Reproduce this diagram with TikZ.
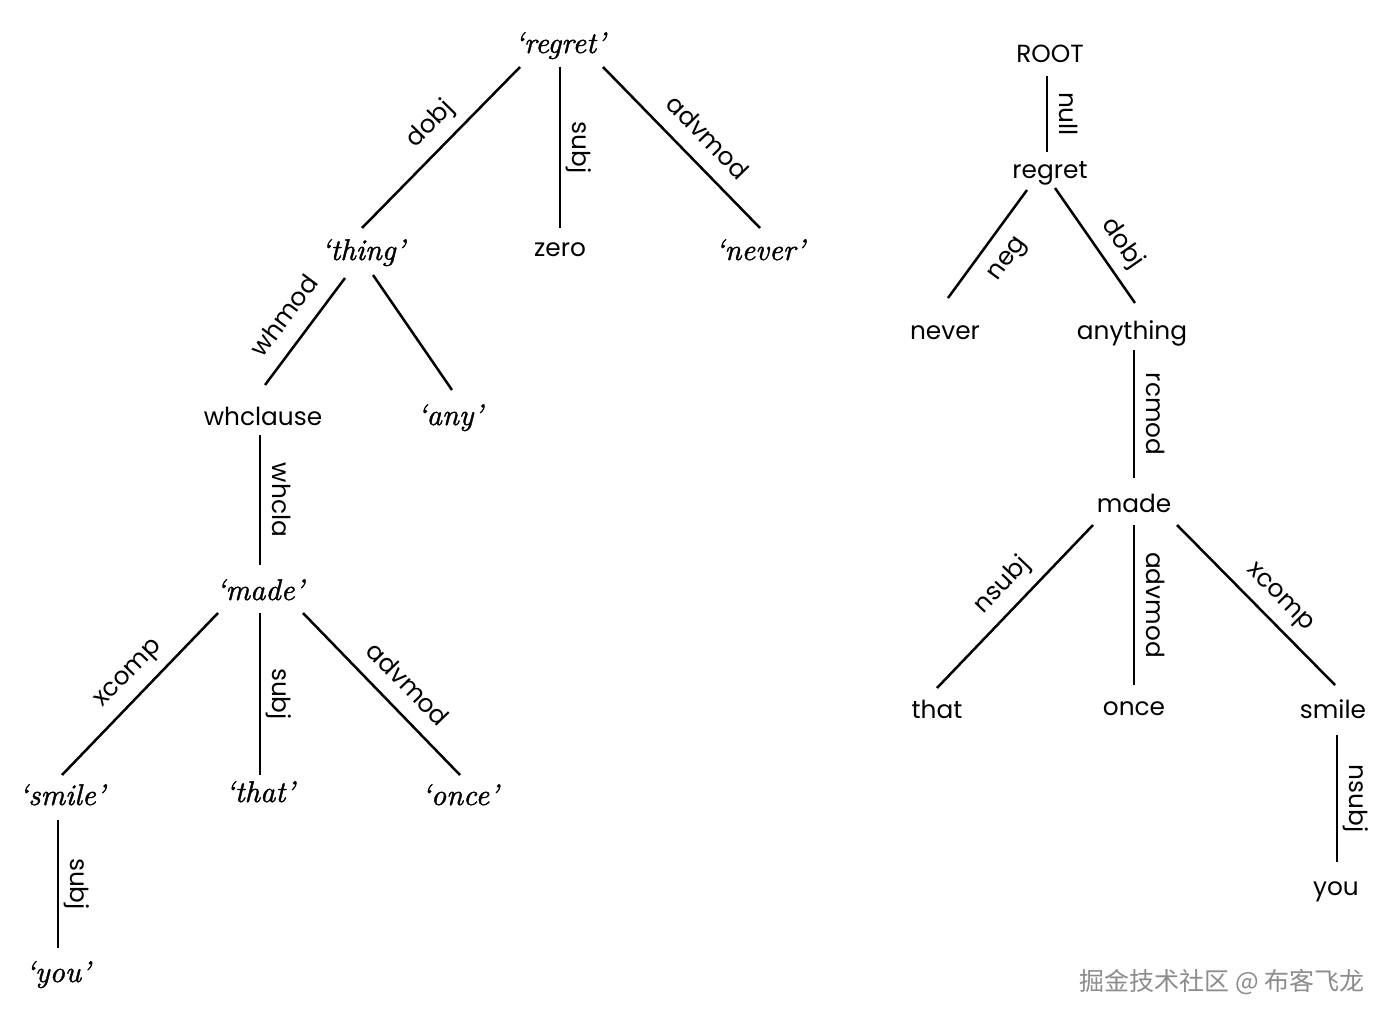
\documentclass[tikz,border=0pt]{standalone}
\usepackage{fontspec}
\newfontfamily\pop{Poppins}
\newfontfamily\cjk{Noto Sans CJK SC}
\newfontfamily\lmi{lmroman10-italic.otf}[FakeBold=1.2,Ligatures=TeX]
\usetikzlibrary{calc}
\begin{document}
\begin{tikzpicture}[x=0.5pt,y=-0.5pt,
  sw/.style={font=\pop\fontsize{12.4}{15}\selectfont, inner sep=0pt, anchor=base},
  iw/.style={font=\lmi\fontsize{15}{17}\selectfont, inner sep=0pt, anchor=base},
  lbl/.style={font=\pop\fontsize{12.4}{15}\selectfont, text height=9.5pt, text depth=3pt, inner sep=2.5pt},
  sl/.style={lbl, inner sep=5pt, sloped, pos=0.5, anchor=south},
  sb/.style={lbl, inner sep=5pt, sloped, pos=0.5, anchor=north},
  vl/.style={lbl, midway, rotate=-90, anchor=south},
  edge/.style={line width=1.25pt}]
\useasboundingbox (0,0) rectangle (1392,1022);
% ---------- left tree ----------
\node[iw] (lregret) at (560,53) {‘regret’};
\node[iw] (lthing) at (363,260) {‘thing’};
\node[sw] (lzero) at (560,256) {zero};
\node[iw] (lnever) at (760,260) {‘never’};
\node[sw] (lwh) at (263,425) {whclause};
\node[iw] (lany) at (450,425) {‘any’};
\node[iw] (lmade) at (260,600) {‘made’};
\node[iw] (lsmile) at (62,805) {‘smile’};
\node[iw] (lthat) at (260,802) {‘that’};
\node[iw] (lonce) at (460,805) {‘once’};
\node[iw] (lyou) at (58,982) {‘you’};

\draw[edge] ($(lregret.base)+(-40,14)$) -- node[sl, pos=0.46] {dobj} ($(lthing.base)+(-1,-32)$);
\draw[edge] ($(lregret.base)+(0,14)$) -- node[vl] {subj} ($(lzero.base)+(0,-28)$);
\draw[edge] ($(lregret.base)+(43,14)$) -- node[sl, pos=0.55] {advmod} ($(lnever.base)+(0,-32)$);
\draw[edge] ($(lthing.base)+(-18,18)$) -- node[sl] {whmod} ($(lwh.base)+(2,-40)$);
\draw[edge] ($(lthing.base)+(10,15)$) -- ($(lany.base)+(2,-35)$);
\draw[edge] ($(lwh.base)+(-3,10)$) -- node[vl] {whcla} ($(lmade.base)+(0,-35)$);
\draw[edge] ($(lmade.base)+(-42,13)$) -- node[sl, pos=0.47] {xcomp} ($(lsmile.base)+(0,-30)$);
\draw[edge] ($(lmade.base)+(0,13)$) -- node[vl] {subj} ($(lthat.base)+(0,-27)$);
\draw[edge] ($(lmade.base)+(43,13)$) -- node[sl, pos=0.55] {advmod} ($(lonce.base)+(0,-30)$);
\draw[edge] ($(lsmile.base)+(-4,15)$) -- node[vl] {subj} ($(lyou.base)+(0,-34)$);

% ---------- right tree ----------
\node[sw] (rroot) at (1050,63) {ROOT};
\node[sw] (rregret) at (1050,178) {regret};
\node[sw] (rnever) at (945,339) {never};
\node[sw] (rany) at (1132,339) {anything};
\node[sw] (rmade) at (1134,512) {made};
\node[sw] (rthat) at (937,718) {that};
\node[sw] (ronce) at (1134,715) {once};
\node[sw] (rsmile) at (1333,718) {smile};
\node[sw] (ryou) at (1336,895) {you};

\draw[edge] ($(rroot.base)+(-3,13)$) -- node[vl] {null} ($(rregret.base)+(-3,-26)$);
\draw[edge] ($(rregret.base)+(-23,12)$) -- node[sb] {neg} ($(rnever.base)+(3,-41)$);
\draw[edge] ($(rregret.base)+(5,10)$) -- node[sl, pos=0.6] {dobj} ($(rany.base)+(3,-36)$);
\draw[edge] ($(rany.base)+(2,11)$) -- node[vl] {rcmod} ($(rmade.base)+(0,-34)$);
\draw[edge] ($(rmade.base)+(-41,13)$) -- node[sl, pos=0.47] {nsubj} ($(rthat.base)+(0,-30)$);
\draw[edge] ($(rmade.base)+(0,13)$) -- node[vl] {advmod} ($(ronce.base)+(0,-30)$);
\draw[edge] ($(rmade.base)+(43,13)$) -- node[sl, pos=0.55] {xcomp} ($(rsmile.base)+(2,-33)$);
\draw[edge] ($(rsmile.base)+(4,17)$) -- node[vl] {nsubj} ($(ryou.base)+(1,-33)$);

% ---------- watermark ----------
\node[font=\cjk\fontsize{12.5}{14}\selectfont, text=black!45, inner sep=0pt] (wm) at (1222,982) {掘金技术社区 @ 布客飞龙};
\end{tikzpicture}
\end{document}
